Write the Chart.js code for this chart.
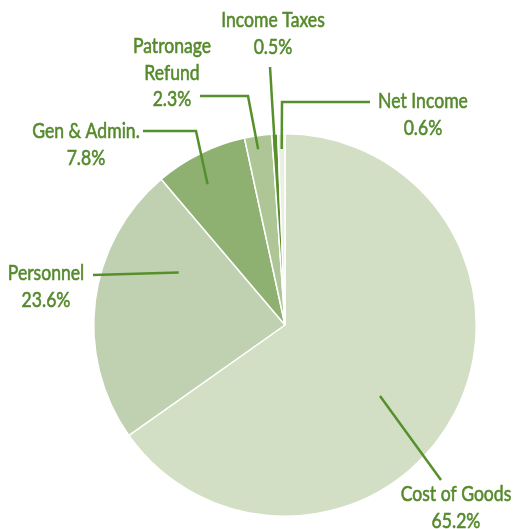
<!DOCTYPE html>
<html><head><meta charset="utf-8">
<script src="https://cdn.jsdelivr.net/npm/chart.js@4"></script>
<style>html,body{margin:0;padding:0;background:#fff;}#wrap{width:514px;height:529px;}</style>
</head><body><div id="wrap"><canvas id="c"></canvas></div>
<script>
const categories = ["Cost of Goods","Personnel","Gen & Admin.","Patronage Refund","Income Taxes","Net Income"];
const values = [65.2, 23.6, 7.8, 2.3, 0.5, 0.6];
const valueLabels = ["65.2%","23.6%","7.8%","2.3%","0.5%","0.6%"];
const nameLines = [["Cost of Goods"],["Personnel"],["Gen & Admin."],["Patronage","Refund"],["Income Taxes"],["Net Income"]];
const colors = ["#d3dfc4","#bfd1b0","#8eb070","#aec596","#5a8f30","#e9efe1"];

// layout for callouts: t = fraction along arc angle, r = radius fraction, path = elbow points, text = center of first line
const callouts = [
  {t:0.54, r:0.62, path:[[441,480]], text:[456,494]},
  {t:0.725,r:0.62, path:[[93,275]], text:[46,273]},
  {t:0.41, r:0.84, path:[[196,131],[143,131]], text:[86,131]},
  {t:0.43, r:0.93, path:[[248,96],[200,96]], text:[172,46]},
  {t:0.4,  r:0.91, path:[[270,67]], text:[273,20]},
  {t:0.5,  r:0.92, path:[[282,102],[370,102]], text:[423,101]}
];

const calloutPlugin = {
  id:'callouts',
  afterDatasetsDraw(chart){
    const ctx = chart.ctx;
    const meta = chart.getDatasetMeta(0);
    ctx.save();
    meta.data.forEach((arc,i)=>{
      const c = callouts[i];
      const p = arc.getProps(['x','y','startAngle','endAngle','outerRadius'],true);
      const a = p.startAngle + (p.endAngle-p.startAngle)*c.t;
      const rr = p.outerRadius*c.r;
      const sx = p.x + Math.cos(a)*rr, sy = p.y + Math.sin(a)*rr;
      ctx.strokeStyle = '#55902c';
      ctx.lineWidth = 2.5;
      ctx.lineJoin = 'miter';
      ctx.beginPath();
      ctx.moveTo(sx,sy);
      c.path.forEach(pt=>ctx.lineTo(pt[0],pt[1]));
      ctx.stroke();
      const lines = nameLines[i].concat([valueLabels[i]]);
      ctx.fillStyle = '#558a2c';
      ctx.strokeStyle = '#558a2c';
      ctx.lineWidth = 0.6;
      ctx.font = '22px Lato';
      ctx.textAlign = 'center';
      ctx.textBaseline = 'middle';
      lines.forEach((ln,j)=>{
        ctx.save();
        ctx.translate(c.text[0], c.text[1]+j*26.5);
        ctx.scale(0.8,1);
        ctx.fillText(ln,0,0);
        ctx.strokeText(ln,0,0);
        ctx.restore();
      });
    });
    ctx.restore();
  }
};

new Chart(document.getElementById('c'),{
  type:'pie',
  data:{labels:categories,datasets:[{data:values,backgroundColor:colors,borderColor:'#ffffff',borderWidth:1.5}]},
  options:{
    responsive:true,maintainAspectRatio:false,animation:false,
    layout:{padding:{top:133,bottom:12,left:93,right:37}},
    plugins:{legend:{display:false},tooltip:{enabled:false}}
  },
  plugins:[calloutPlugin]
});
</script></body></html>
